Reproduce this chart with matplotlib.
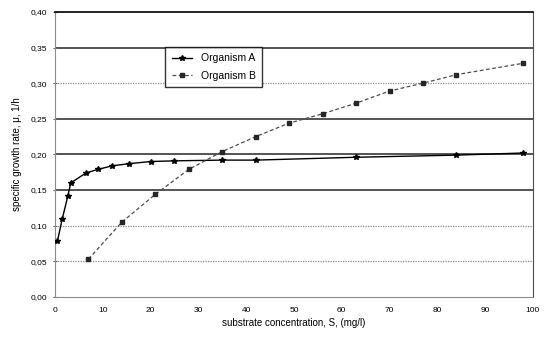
import numpy as np
import matplotlib.pyplot as plt

# substrate concentration (mg/l) and specific growth rate (1/h)
org_a_s = [0.5, 1.5, 2.7, 3.3, 6.5, 9, 12, 15.5, 20, 25, 35, 42, 63, 84, 98]
org_a_mu = [0.078, 0.109, 0.142, 0.160, 0.174, 0.179, 0.184, 0.187, 0.190,
            0.191, 0.192, 0.192, 0.196, 0.199, 0.202]

org_b_s = [7, 14, 21, 28, 35, 42, 49, 56, 63, 70, 77, 84, 98]
org_b_mu = [0.053, 0.105, 0.144, 0.179, 0.204, 0.225, 0.244, 0.257, 0.272,
            0.289, 0.300, 0.312, 0.328]

y_ticks = np.arange(0, 0.401, 0.05)
x_ticks = np.arange(0, 101, 10)

plt.rcParams['font.family'] = ['Liberation Sans', 'DejaVu Sans']

fig = plt.figure(figsize=(5.5, 3.42), dpi=100)
ax = fig.add_axes([0.1, 0.132, 0.869, 0.833])

# scanned look: some gridlines dark, some faint dotted
dark = {0.35, 0.25, 0.20, 0.15}
for v in y_ticks[1:-1]:
    if round(v, 2) in dark:
        ax.axhline(v, color='0.15', lw=1.1, zorder=1)
    else:
        ax.axhline(v, color='0.55', lw=0.9, ls=(0, (1, 1)), zorder=1)

ax.plot(org_a_s, org_a_mu, color='black', lw=1.0, marker='*', ms=4,
        label='Organism A', zorder=3)
ax.plot(org_b_s, org_b_mu, color='0.3', lw=0.9, ls=(0, (3, 2)), marker='s',
        ms=3, mfc='0.15', mec='0.15', label='Organism B', zorder=3)

ax.set_xlim(0, 100)
ax.set_ylim(0, 0.40)
ax.set_xticks(x_ticks)
ax.set_yticks(y_ticks)
ax.set_yticklabels([f'{v:.2f}'.replace('.', ',') for v in y_ticks])
ax.tick_params(axis='both', labelsize=6, color='0.4', length=3,
               direction='inout', pad=4)
ax.tick_params(axis='x', length=0, pad=7)

ax.spines['top'].set_color('black')
ax.spines['top'].set_linewidth(1.2)
ax.spines['right'].set_color('0.3')
ax.spines['right'].set_linestyle((0, (2, 1)))
ax.spines['left'].set_color('0.55')
ax.spines['left'].set_linestyle((0, (1, 1)))
ax.spines['bottom'].set_color('0.55')
ax.spines['bottom'].set_linestyle((0, (1, 1)))

ax.set_xlabel('substrate concentration, S, (mg/l)', fontsize=7, labelpad=3)
ax.set_ylabel('specific growth rate, μ, 1/h', fontsize=7, labelpad=6)

leg = ax.legend(loc='upper left', bbox_to_anchor=(0.22, 0.895), fontsize=7.5,
                frameon=True, fancybox=False, edgecolor='black',
                borderpad=0.6, handlelength=2.0, labelspacing=0.7)
leg.get_frame().set_linewidth(1.0)

fig.savefig('out.png', dpi=100)
